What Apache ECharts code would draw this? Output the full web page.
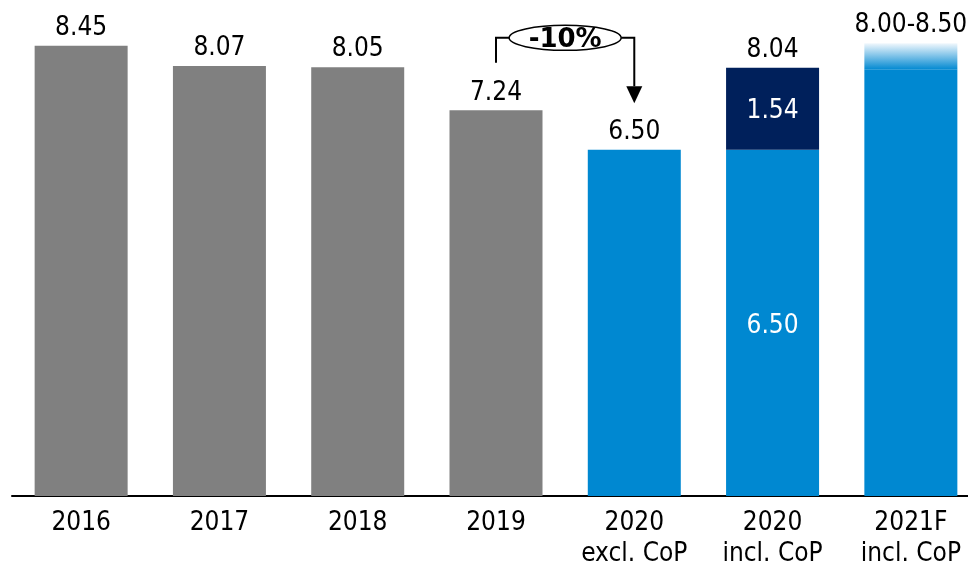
<!DOCTYPE html>
<html>
<head>
<meta charset="utf-8">
<script src="https://cdn.jsdelivr.net/npm/echarts@6/dist/echarts.min.js"></script>
<style>
html,body{margin:0;padding:0;background:#fff;}
#chart{width:968px;height:566px;}
</style>
</head>
<body>
<div id="chart"></div>
<script>
// ---- data ----
const categories = ['2016', '2017', '2018', '2019', '2020\nexcl. CoP', '2020\nincl. CoP', '2021F\nincl. CoP'];
const baseValues = [8.45, 8.07, 8.05, 7.24, 6.50, 6.50, 8.00];
const addValues = [null, null, null, null, null, 1.54, 0.50];
const totalValues = [8.45, 8.07, 8.05, 7.24, 6.50, 8.04, 8.50];
const totalLabels = ['8.45', '8.07', '8.05', '7.24', '6.50', '8.04', '8.00-8.50'];
const changeLabel = '-10%';
const changeFrom = '2019';
const changeTo = '2020\nexcl. CoP';

const FONT = '"DejaVu Sans Condensed", "DejaVu Sans", sans-serif';
const GRAY = '#808080', BLUE = '#0088D1', NAVY = '#00205B';

const chart = echarts.init(document.getElementById('chart'), null, {renderer: 'canvas'});

const insideLabel = v => ({show: true, position: 'inside', color: '#fff', offset: [0, 3], formatter: v.toFixed(2)});
const baseData = baseValues.map((v, i) => {
  const item = {value: v, itemStyle: {color: i < 4 ? GRAY : BLUE}};
  if (i === 5) item.label = insideLabel(v);
  return item;
});
const addData = addValues.map((v, i) => {
  if (v == null) return null;
  const item = {value: v};
  if (i === 5) {
    item.itemStyle = {color: NAVY};
    item.label = insideLabel(v);
  } else {
    item.itemStyle = {color: new echarts.graphic.LinearGradient(0, 0, 0, 1, [
      {offset: 0, color: '#f2f8fd'},
      {offset: 1, color: BLUE}
    ])};
  }
  return item;
});

const option = {
  animation: false,
  grid: {left: 12, width: 968, top: 0, bottom: 70, containLabel: false, outerBoundsMode: 'none'},
  xAxis: {
    type: 'category',
    data: categories,
    axisLine: {show: true, lineStyle: {color: '#000', width: 2}},
    axisTick: {show: false},
    axisLabel: {color: '#000', fontFamily: FONT, fontSize: 26, lineHeight: 31, margin: 12, interval: 0}
  },
  yAxis: {
    type: 'value', min: 0, max: 9.31, show: false, splitLine: {show: false}
  },
  series: [
    {
      name: 'base', type: 'bar', stack: 'a', barWidth: 93, data: baseData,
      label: {show: false, fontFamily: FONT, fontSize: 26}
    },
    {
      name: 'add', type: 'bar', stack: 'a', barWidth: 93, data: addData,
      label: {show: false, fontFamily: FONT, fontSize: 26}
    },
    {
      name: 'total', type: 'line', data: totalValues, symbol: 'circle', symbolSize: 1, showSymbol: true,
      silent: true,
      itemStyle: {color: 'rgba(0,0,0,0)'},
      lineStyle: {opacity: 0},
      label: {
        show: true, position: 'top', distance: 4, color: '#000', fontFamily: FONT, fontSize: 26,
        formatter: p => totalLabels[p.dataIndex]
      }
    }
  ]
};
chart.setOption(option);

// ---- annotation (-10%) placed through the chart's own scales ----
function px(cat, val) { return chart.convertToPixel({gridIndex: 0}, [cat, val]); }
const levelStart = 8.13, levelTop = 8.60, levelArrowBase = 7.69, levelArrowTip = 7.37;
const pFromLow = px(changeFrom, levelStart);
const pFromTop = px(changeFrom, levelTop);
const pToTop = px(changeTo, levelTop);
const pToBase = px(changeTo, levelArrowBase);
const pToTip = px(changeTo, levelArrowTip);
const cx = (pFromTop[0] + pToTop[0]) / 2, cy = pFromTop[1];
const rx = 56, ry = 12.5;
const ls = {stroke: '#000', lineWidth: 2};
chart.setOption({
  graphic: [
    {type: 'polyline', shape: {points: [pFromLow, pFromTop, [cx - rx, cy]]}, style: Object.assign({fill: null}, ls)},
    {type: 'polyline', shape: {points: [[cx + rx, cy], pToTop, pToBase]}, style: Object.assign({fill: null}, ls)},
    {type: 'polygon', shape: {points: [[pToBase[0] - 8, pToBase[1]], [pToBase[0] + 8, pToBase[1]], pToTip]}, style: {fill: '#000'}},
    {type: 'ellipse', shape: {cx: cx, cy: cy, rx: rx, ry: ry}, style: {fill: '#fff', stroke: '#000', lineWidth: 1.5}},
    {type: 'text', x: cx, y: cy + 2, style: {text: changeLabel, fill: '#000', font: 'bold 26px "DejaVu Sans", sans-serif', textAlign: 'center', textVerticalAlign: 'middle'}}
  ]
});
</script>
</body>
</html>
